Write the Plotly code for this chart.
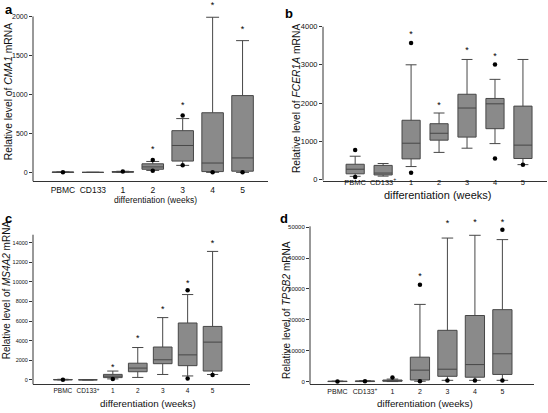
import plotly.graph_objects as go

W, H = 548, 413

cats_a = ["PBMC", "CD133", "1", "2", "3", "4", "5"]
cats_bcd = ["PBMC", "CD133<sup>+</sup>", "1", "2", "3", "4", "5"]

# Panel a: CMA1
a_q1 = [0, 0, 2, 40, 145, 10, 15]
a_med = [2, 0, 6, 70, 345, 120, 185]
a_q3 = [5, 0, 10, 110, 535, 765, 985]
a_lo = [0, 0, 0, 25, 90, 0, 0]
a_hi = [6, 0, 14, 140, 690, 1990, 1690]
a_out_x = ["PBMC", "1", "2", "2", "3", "3", "4", "5"]
a_out_y = [2, 10, 160, 20, 730, 90, 0, 0]
a_star_x = ["2", "3", "4", "5"]
a_star_y = [290, 860, 2140, 1830]

# Panel b: FCER1A
b_q1 = [150, 120, 540, 1030, 1110, 1330, 550]
b_med = [270, 170, 950, 1210, 1870, 1980, 900]
b_q3 = [400, 370, 1550, 1460, 2230, 2120, 1920]
b_lo = [85, 90, 340, 710, 820, 940, 390]
b_hi = [610, 420, 3000, 1740, 3140, 2620, 3140]
b_out_x = ["PBMC", "PBMC", "1", "1", "4", "4", "5"]
b_out_y = [770, 70, 3570, 180, 3010, 550, 390]
b_star_x = ["1", "2", "3", "4"]
b_star_y = [3790, 1940, 3380, 3210]

# Panel c: MS4A2
c_q1 = [0, 0, 230, 830, 1650, 1450, 900]
c_med = [20, 5, 380, 1200, 2050, 2550, 3850]
c_q3 = [40, 10, 560, 1700, 3350, 5800, 5450]
c_lo = [0, 0, 100, 250, 550, 400, 550]
c_hi = [60, 10, 900, 3300, 6350, 8700, 13100]
c_out_x = ["PBMC", "1", "4", "4", "5"]
c_out_y = [20, 100, 9150, 150, 500]
c_star_x = ["1", "2", "3", "4", "5"]
c_star_y = [1200, 4150, 7200, 9800, 13900]

# Panel d: TPSB2
d_q1 = [0, 0, 100, 500, 1700, 1400, 2300]
d_med = [50, 100, 250, 3700, 4000, 5500, 9000]
d_q3 = [100, 200, 500, 7900, 16600, 21400, 23300]
d_lo = [0, 0, 0, 100, 400, 400, 400]
d_hi = [150, 300, 800, 25000, 46500, 47400, 46000]
d_out_x = ["PBMC", "CD133<sup>+</sup>", "1", "2", "2", "3", "4", "5", "5"]
d_out_y = [50, 100, 1300, 31400, 100, 300, 300, 49200, 300]
d_star_x = ["2", "3", "4", "5"]
d_star_y = [33800, 51000, 51400, 51400]

BOX_FILL = "#8a8a8a"
BOX_LINE = "#474747"
AX = "#333333"
TXT = "#111111"
FONT = "Liberation Sans, Arial, sans-serif"

fig = go.Figure()

# ydom = (top pixel, bottom pixel) of the plotting area; yr = value range
# yline = top of the drawn y-axis line (value)
panels = [
    dict(cats=cats_a, q1=a_q1, med=a_med, q3=a_q3, lo=a_lo, hi=a_hi,
         ox=a_out_x, oy=a_out_y, sx=a_star_x, sy=a_star_y,
         xdom=(33, 268), ydom=(0, 181), xr=(-1.0, 6.85), yr=(-117, 2160), yline=2000,
         dtick=500, width=0.72, tickfs=7, catfs=8.5, standoff=0, ax="x", ay="y"),
    dict(cats=cats_bcd, q1=b_q1, med=b_med, q3=b_q3, lo=b_lo, hi=b_hi,
         ox=b_out_x, oy=b_out_y, sx=b_star_x, sy=b_star_y,
         xdom=(323, 547), ydom=(23, 180), xr=(-1.15, 6.86), yr=(-25, 4000), yline=4000,
         dtick=1000, width=0.65, tickfs=7.5, catfs=7.5, standoff=-6, ax="x2", ay="y2"),
    dict(cats=cats_bcd, q1=c_q1, med=c_med, q3=c_q3, lo=c_lo, hi=c_hi,
         ox=c_out_x, oy=c_out_y, sx=c_star_x, sy=c_star_y,
         xdom=(33, 250), ydom=(235, 388), xr=(-1.2, 7.5), yr=(-470, 14830), yline=14830,
         dtick=2000, width=0.75, tickfs=5.5, catfs=6.5, standoff=0, ax="x3", ay="y3"),
    dict(cats=cats_bcd, q1=d_q1, med=d_med, q3=d_q3, lo=d_lo, hi=d_hi,
         ox=d_out_x, oy=d_out_y, sx=d_star_x, sy=d_star_y,
         xdom=(310, 534), ydom=(219.8, 388), xr=(-1.0, 7.15), yr=(-950, 52500), yline=50300,
         dtick=10000, width=0.7, tickfs=6, catfs=7, standoff=0, ax="x4", ay="y4"),
]

shapes = []
for i, p in enumerate(panels):
    fig.add_trace(go.Box(
        x=p["cats"], q1=p["q1"], median=p["med"], q3=p["q3"],
        lowerfence=p["lo"], upperfence=p["hi"],
        fillcolor=BOX_FILL, line=dict(color=BOX_LINE, width=1),
        width=p["width"], whiskerwidth=0.6, boxpoints=False,
        xaxis=p["ax"], yaxis=p["ay"], showlegend=False, hoverinfo="skip"))
    fig.add_trace(go.Scatter(
        x=p["ox"], y=p["oy"], mode="markers",
        marker=dict(color="black", size=4.5),
        xaxis=p["ax"], yaxis=p["ay"], showlegend=False, cliponaxis=False))
    fig.add_trace(go.Scatter(
        x=p["sx"], y=p["sy"], mode="text", text=["*"] * len(p["sx"]),
        textfont=dict(family=FONT, size=9, color="black"),
        textposition="middle center",
        xaxis=p["ax"], yaxis=p["ay"], showlegend=False, cliponaxis=False))

    suffix = "" if i == 0 else str(i + 1)
    fig.layout["xaxis" + suffix] = dict(
        domain=[p["xdom"][0] / W, p["xdom"][1] / W],
        anchor="y" + suffix, type="category", categoryorder="array",
        categoryarray=p["cats"], range=list(p["xr"]),
        showline=True, linecolor=AX, linewidth=1, ticks="",
        ticklabelstandoff=p["standoff"],
        showgrid=False, zeroline=False,
        tickfont=dict(family=FONT, size=p["catfs"], color=TXT))
    fig.layout["yaxis" + suffix] = dict(
        domain=[1 - p["ydom"][1] / H, 1 - p["ydom"][0] / H],
        anchor="x" + suffix, range=list(p["yr"]), dtick=p["dtick"], tick0=0,
        tickformat="d",
        showline=False, ticks="outside",
        ticklen=3, tickcolor=AX, showgrid=False, zeroline=False,
        tickfont=dict(family=FONT, size=p["tickfs"], color=TXT))
    shapes.append(dict(type="line", xref=p["ax"] + " domain", yref=p["ay"],
                       x0=0, x1=0, y0=p["yr"][0], y1=p["yline"],
                       line=dict(color=AX, width=1)))

ann = []
letters = [("a", 3, 6), ("b", 283, 10), ("c", 3, 219), ("d", 278, 219)]
for t, x, y in letters:
    ann.append(dict(text="<b>%s</b>" % t, x=x / W, y=1 - y / H, xref="paper", yref="paper",
                    xanchor="left", yanchor="middle", showarrow=False,
                    font=dict(family=FONT, size=13, color="black")))

ytitles = [("Relative level of <i>CMA1</i> mRNA", 8, 90, 10.3),
           ("Relative level of <i>FCER1A</i> mRNA", 296, 97, 10.3),
           ("Relative level of <i>MS4A2</i> mRNA", 6, 292, 10),
           ("Relative level of <i>TPSB2</i> mRNA", 287, 312, 10)]
for t, x, y, fs in ytitles:
    ann.append(dict(text=t, x=x / W, y=1 - y / H, xref="paper", yref="paper",
                    xanchor="center", yanchor="middle", textangle=-90, showarrow=False,
                    font=dict(family=FONT, size=fs, color=TXT)))

xtitles = [(155, 200, 8.5), (437, 195, 11), (148, 407, 9.8), (425, 407, 9.8)]
for x, y, fs in xtitles:
    ann.append(dict(text="differentiation (weeks)", x=x / W, y=1 - y / H,
                    xref="paper", yref="paper", xanchor="center", yanchor="middle",
                    showarrow=False, font=dict(family=FONT, size=fs, color=TXT)))

fig.update_layout(
    width=W, height=H, margin=dict(l=0, r=0, t=0, b=0),
    paper_bgcolor="white", plot_bgcolor="white",
    boxmode="overlay", annotations=ann, shapes=shapes, showlegend=False,
    font=dict(family=FONT, color=TXT))

fig.write_html("out.html", config={"displayModeBar": False},
               post_script="document.body.style.margin='0';document.body.style.padding='0';document.body.style.overflow='hidden';")
